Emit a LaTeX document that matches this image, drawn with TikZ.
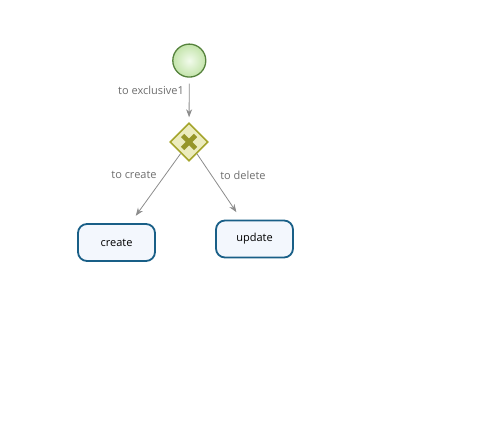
\documentclass[tikz,border=0pt]{standalone}
\usepackage{fontspec}
\setmainfont{Open Sans}
\usetikzlibrary{shapes.geometric,arrows.meta}

\definecolor{startline}{RGB}{85,130,60}
\definecolor{startin}{RGB}{242,251,236}
\definecolor{startout}{RGB}{195,228,170}
\definecolor{gwline}{RGB}{165,165,45}
\definecolor{gwfill}{RGB}{236,236,190}
\definecolor{gwcross}{RGB}{150,150,40}
\definecolor{taskline}{RGB}{25,95,135}
\definecolor{taskfill}{RGB}{243,247,253}
\definecolor{flowline}{RGB}{140,140,140}
\definecolor{flowtext}{RGB}{110,110,110}

\tikzset{
  startevent/.style={circle, draw=startline, line width=1.3pt, inner color=startin, outer color=startout, minimum size=33pt, inner sep=0pt},
  xgateway/.style={diamond, draw=gwline, line width=1.6pt, fill=gwfill, minimum size=38pt, inner sep=0pt,
    path picture={
      \draw[gwcross, line width=4.6pt] ([shift={(-6.5,-6.5)}]path picture bounding box.center) -- ([shift={(6.5,6.5)}]path picture bounding box.center);
      \draw[gwcross, line width=4.6pt] ([shift={(-6.5,6.5)}]path picture bounding box.center) -- ([shift={(6.5,-6.5)}]path picture bounding box.center);
    }},
  usertask/.style={rectangle, rounded corners=9pt, draw=taskline, line width=1.8pt, fill=taskfill, minimum width=77pt, minimum height=37pt, font=\fontsize{11}{13}\selectfont},
  flow/.style={draw=flowline, line width=0.8pt, -{Stealth[length=8pt,width=6pt]}},
  flowlabel/.style={text=flowtext, font=\fontsize{11}{13}\selectfont, inner sep=0pt}
}

\begin{document}
\begin{tikzpicture}[x=1pt,y=1pt,yscale=-1,xscale=1]
\useasboundingbox (0,0) rectangle (486,427);

%Shape: Start Event
\node[startevent] (start) at (189.3,60.6) {};
%Shape: Exclusive Gateway
\node[xgateway] (exclusive1) at (189,142) {};
%Shape: Task
\node[usertask] (create) at (116.5,242.5) {create};
%Shape: Task
\node[usertask] (update) at (254.5,239) {update};

%Sequence Flows
\draw[flow, shorten <=6pt, shorten >=5pt] (start) -- (exclusive1);
\draw[flow, shorten >=9pt] (exclusive1) -- (create);
\draw[flow, shorten >=9pt] (exclusive1) -- (update);

% Text Node
\node[flowlabel] (lbl1) at (151,90) {to exclusive1};
% Text Node
\node[flowlabel] (lbl2) at (134,175) {to create};
% Text Node
\node[flowlabel] (lbl3) at (243,175) {to delete};

\end{tikzpicture}
\end{document}
